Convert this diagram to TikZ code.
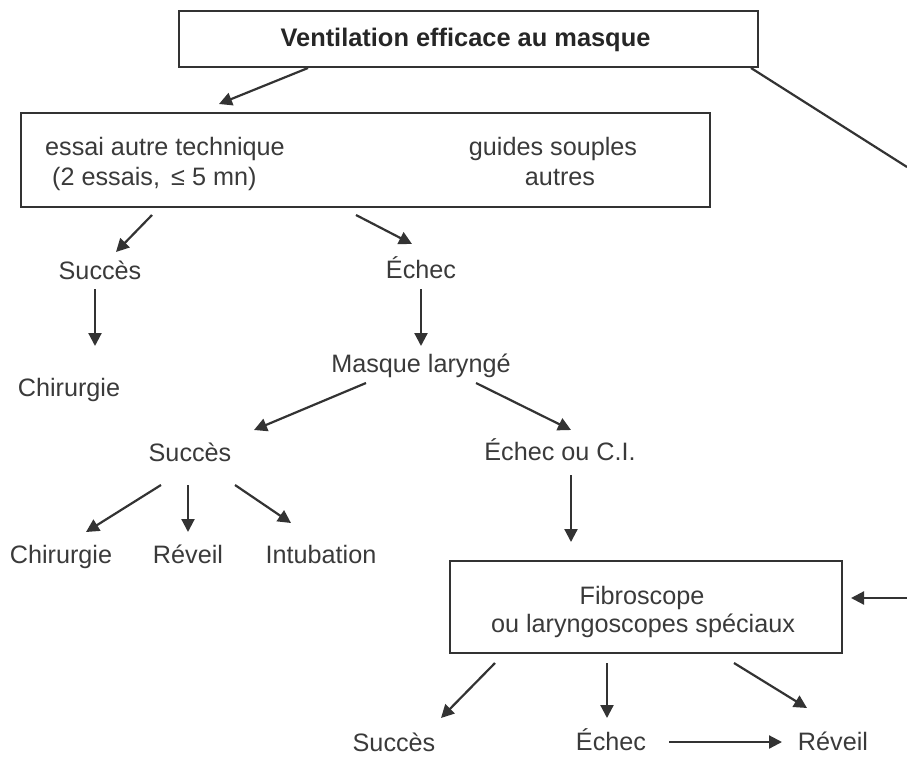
\documentclass[tikz,border=0pt]{standalone}
\usepackage{fontspec}
\setmainfont{Liberation Sans}
\usetikzlibrary{arrows.meta}
\definecolor{ink}{HTML}{3A3A3A}
\definecolor{lin}{HTML}{333333}
\begin{document}
\begin{tikzpicture}[x=1pt,y=-1pt,
  lbl/.style={inner sep=0pt,text=ink,text height=17pt,text depth=5pt,font=\fontsize{25.2}{28}\selectfont},
  boxnode/.style={draw=lin,line width=2pt,inner sep=0pt},
  arr/.style={draw=lin,line width=2.2pt,-{Triangle[length=13pt,width=13pt]}},
  ln/.style={draw=lin,line width=2.2pt}]
\useasboundingbox (0,0) rectangle (907,758);
% boxes
\node[boxnode,minimum width=579pt,minimum height=56pt] (top) at (468.5,39) {};
\node[lbl,font=\fontsize{25.4}{28}\selectfont\bfseries,text=black!85] (title) at (465.5,40) {Ventilation efficace au masque};
\node[boxnode,minimum width=689pt,minimum height=94pt] (b2) at (365.5,160) {};
\node[lbl,anchor=west] (essai) at (45,149) {essai autre technique};
\node[lbl,anchor=west] (essais) at (52,179) {(2 essais,\, ≤ 5 mn)};
\node[lbl] (guides) at (553,149) {guides souples};
\node[lbl] (autres) at (560,179) {autres};
\node[boxnode,minimum width=392pt,minimum height=92pt] (fibro) at (646,607) {};
\node[lbl] (fibro1) at (642,598) {Fibroscope};
\node[lbl] (fibro2) at (643,626) {ou laryngoscopes spéciaux};
% labels
\node[lbl] (succ1) at (100,273) {Succès};
\node[lbl] (ech1) at (421,272) {Échec};
\node[lbl] (chir1) at (69,390) {Chirurgie};
\node[lbl] (masque) at (421,366) {Masque laryngé};
\node[lbl] (succ2) at (190,455) {Succès};
\node[lbl] (ech2) at (560,454) {Échec ou C.I.};
\node[lbl] (chir2) at (61,557) {Chirurgie};
\node[lbl] (rev2) at (188,557) {Réveil};
\node[lbl] (intub) at (321,557) {Intubation};
\node[lbl] (succ3) at (394,745) {Succès};
\node[lbl] (ech3) at (611,744) {Échec};
\node[lbl] (rev3) at (833,744) {Réveil};
% connector ends
\coordinate (topA) at (308,68);   \coordinate (b2in) at (219,104);
\coordinate (topB) at (751,68);   \coordinate (edgeA) at (907,167);
\coordinate (edgeB) at (907,598); \coordinate (fibroin) at (851,598);
\coordinate (b2A) at (152,215);   \coordinate (succ1in) at (116,252);
\coordinate (b2B) at (356,215);   \coordinate (ech1in) at (412,244);
\coordinate (succ1out) at (95,289); \coordinate (chir1in) at (95,346);
\coordinate (ech1out) at (421,289); \coordinate (masquein) at (421,346);
\coordinate (masqueA) at (366,383); \coordinate (succ2in) at (254,430);
\coordinate (masqueB) at (476,383); \coordinate (ech2in) at (571,430);
\coordinate (succ2A) at (161,485); \coordinate (chir2in) at (86,532);
\coordinate (succ2B) at (188,485); \coordinate (rev2in) at (188,532);
\coordinate (succ2C) at (235,485); \coordinate (intubin) at (291,523);
\coordinate (ech2out) at (571,475); \coordinate (fibroT) at (571,542);
\coordinate (fibroA) at (495,663); \coordinate (succ3in) at (441,718);
\coordinate (fibroB) at (607,663); \coordinate (ech3in) at (607,718);
\coordinate (fibroC) at (734,663); \coordinate (rev3in) at (807,708);
\coordinate (ech3out) at (669,742); \coordinate (rev3w) at (782,742);
% connectors
\draw[arr] (topA) -- (b2in);
\draw[ln] (topB) -- (edgeA);
\draw[arr] (edgeB) -- (fibroin);
\draw[arr] (b2A) -- (succ1in);
\draw[arr] (b2B) -- (ech1in);
\draw[arr] (succ1out) -- (chir1in);
\draw[arr] (ech1out) -- (masquein);
\draw[arr] (masqueA) -- (succ2in);
\draw[arr] (masqueB) -- (ech2in);
\draw[arr] (succ2A) -- (chir2in);
\draw[arr] (succ2B) -- (rev2in);
\draw[arr] (succ2C) -- (intubin);
\draw[arr] (ech2out) -- (fibroT);
\draw[arr] (fibroA) -- (succ3in);
\draw[arr] (fibroB) -- (ech3in);
\draw[arr] (fibroC) -- (rev3in);
\draw[arr] (ech3out) -- (rev3w);
\end{tikzpicture}
\end{document}
